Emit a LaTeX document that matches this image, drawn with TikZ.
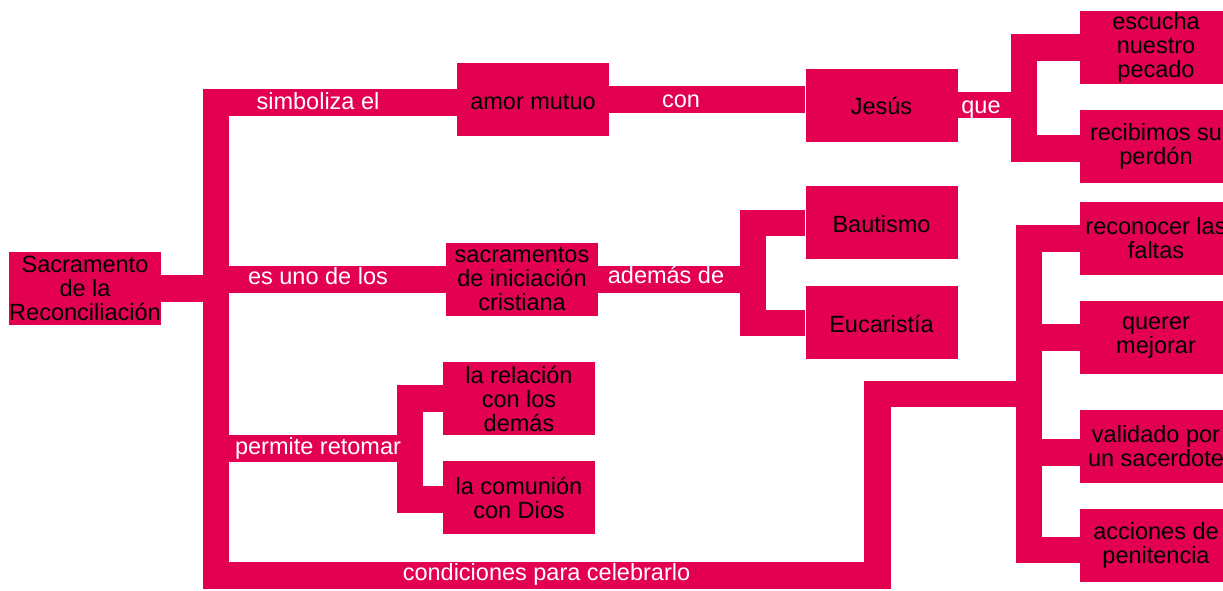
\documentclass[tikz,border=0pt]{standalone}
\usepackage{fontspec}
\setmainfont{Liberation Sans}
\usepackage{tikz}
\definecolor{rojo}{RGB}{228,0,80}

\begin{document}
\begin{tikzpicture}[x=1pt, y=-1pt, font=\fontsize{23.5}{24}\selectfont,
  caja/.style={fill=rojo, minimum width=152pt, minimum height=73pt, inner sep=0pt, align=center},
  una/.style={caja, text height=20pt, text depth=1pt},
  rama/.style={draw=rojo, line width=26.5pt},
  etiq/.style={text=white, inner sep=0pt, text height=17pt, text depth=5pt}]
  % one unit = one pixel of the 1223x590 sheet, y downwards
  \useasboundingbox (0,0) rectangle (1223,590);
  \node[caja] (sac) at (85,288.5) {Sacramento\\de la\\Reconciliación};
  \node[una] (amor) at (533,99.5) {amor mutuo};
  \node[una] (jesus) at (881.5,105) {Jesús};
  \node[caja] (escucha) at (1156,47) {escucha\\nuestro\\pecado};
  \node[caja] (perdon) at (1156,146.5) {recibimos su\\perdón};
  \node[caja] (inic) at (522,279.5) {sacramentos\\de iniciación\\cristiana};
  \node[una] (baut) at (881.5,222.5) {Bautismo};
  \node[una] (euca) at (881.5,322.5) {Eucaristía};
  \node[caja] (rel) at (519,398.5) {la relación\\con los\\demás};
  \node[caja] (dios) at (519,497.5) {la comunión\\con Dios};
  \node[caja] (faltas) at (1156,238.5) {reconocer las\\faltas};
  \node[caja] (mejorar) at (1156,337.5) {querer\\mejorar};
  \node[caja] (sacerd) at (1156,446.5) {validado por\\un sacerdote};
  \node[caja] (penit) at (1156,545.5) {acciones de\\penitencia};
  % corners of the bands
  \coordinate (t1) at (216,102.5);
  \coordinate (t2) at (216,575.5);
  \coordinate (c1) at (877.5,394);
  \coordinate (r1) at (1029,238.5);
  \coordinate (r2) at (1029,550);
  \coordinate (r3) at (1029,452.5);
  \coordinate (j1) at (1024,47.5);
  \coordinate (j2) at (1024,148.5);
  \coordinate (b1) at (753,223);
  \coordinate (b2) at (753,323);
  \coordinate (p1) at (410,398.5);
  \coordinate (p2) at (410,499.5);
  \coordinate (p3) at (216,448.5);
  \draw[rama] (amor.west |- t1) -- (t1) -- (t2) -| (c1) -- (c1 -| r1);
  \draw[rama] (sac.east) -- (sac.east -| t1);
  \draw[rama] (t1 |- inic) -- (inic.west);
  \draw[rama] (p3) -- (p3 -| p1);
  \draw[rama] (rel.west) -- (p1) -- (p2) -- (dios.west |- p2);
  \draw[rama] (inic.east) -- (inic.east -| b1);
  \draw[rama] (baut.west |- b1) -- (b1) -- (b2) -- (euca.west |- b2);
  \draw[rama] (amor.east) -- (jesus.west |- amor.east);
  \draw[rama] (jesus.east) -- (jesus.east -| j1);
  \draw[rama] (escucha.west |- j1) -- (j1) -- (j2) -- (perdon.west |- j2);
  \draw[rama] (faltas.west) -- (r1) -- (r2) -- (penit.west |- r2);
  \draw[rama] (r1 |- mejorar) -- (mejorar.west);
  \draw[rama] (r3) -- (sacerd.west |- r3);
  % white words on the bands
  \node[etiq] (l1) at (318,103) {simboliza el};
  \node[etiq] (l2) at (318,278) {es uno de los};
  \node[etiq] (l3) at (318,448) {permite retomar};
  \node[etiq] (l4) at (546.5,574) {condiciones para celebrarlo};
  \node[etiq] (l5) at (681,101) {con};
  \node[etiq] (l6) at (666,277) {además de};
  \node[etiq] (l7) at (981,107.5) {que};
\end{tikzpicture}
\end{document}
